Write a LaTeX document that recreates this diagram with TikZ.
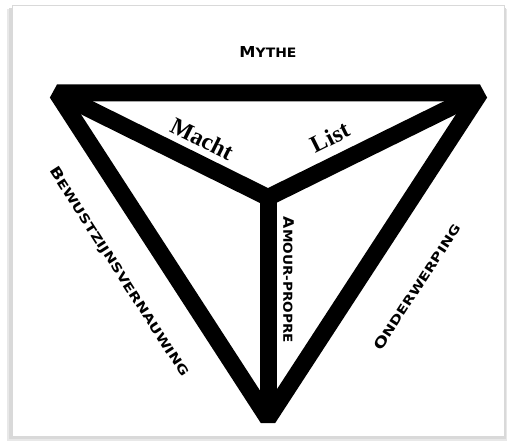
\documentclass[tikz,border=0pt]{standalone}
\usepackage{fontspec}
\usepackage{graphicx}
\newfontfamily\capsfont{DejaVu Sans}
\newfontfamily\serifbold{Liberation Serif}
\newcommand\fakesc[2]{{\fontsize{12}{12}\selectfont #1}{\fontsize{10.3}{10.3}\selectfont #2}}
\tikzset{
  bar/.style={line width=17pt, black},
  caplabel/.style={inner sep=0pt, font=\capsfont\bfseries},
  wordlabel/.style={inner sep=0pt, font=\serifbold\bfseries\fontsize{24}{24}\selectfont}
}
\begin{document}
\begin{tikzpicture}[x=1pt,y=-1pt]
\useasboundingbox (0,0) rectangle (507,441);
% card with soft shadow
\fill[gray!18] (7,9) rectangle (507,441);
\fill[gray!30] (9,8) rectangle (506,439);
\fill[white] (12,5) rectangle (504,436);
\draw[gray!30, line width=0.6pt] (12,5) rectangle (504,436);
% geometry
\coordinate (TL) at (57,93);
\coordinate (TR) at (480,93);
\coordinate (B) at (268,418.5);
\coordinate (J) at (268,197.5);
\draw[bar, line join=bevel] (TL) -- (TR) -- (B) -- cycle;
\draw[bar, line join=miter] (TL) -- (J) -- (TR);
\draw[bar] (J) -- (B);
% labels
\node[caplabel] (mythe) at (268,52) {\resizebox{57pt}{11pt}{\fakesc{M}{YTHE}}};
\node[caplabel, rotate=-57.3] (bew) at (119,272) {\resizebox{246pt}{10.5pt}{\fakesc{B}{EWUSTZIJNSVERNAUWING}}};
\node[caplabel, rotate=-90] (amour) at (288.5,280) {\resizebox{126pt}{10.5pt}{\fakesc{A}{MOUR-PROPRE}}};
\node[caplabel, rotate=57] (onder) at (417,287) {\resizebox{147pt}{10.5pt}{\fakesc{O}{NDERWERPING}}};
\node[wordlabel, rotate=-26.5] (macht) at (202,139) {Macht};
\node[wordlabel, rotate=26.5] (list) at (330,137) {List};
\end{tikzpicture}
\end{document}
